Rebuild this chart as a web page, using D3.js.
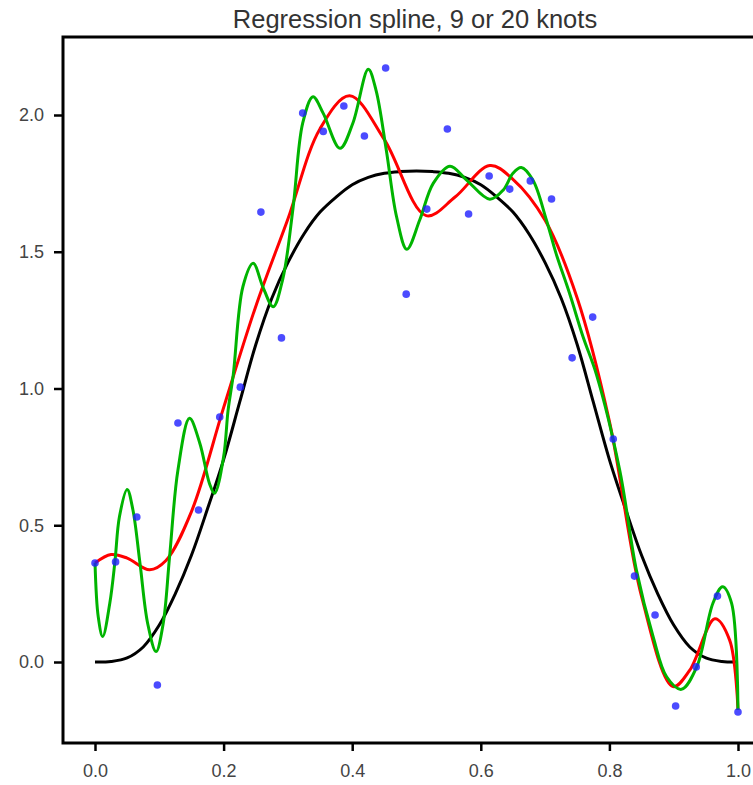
<!DOCTYPE html>
<html>
<head>
<meta charset="utf-8">
<script src="https://cdnjs.cloudflare.com/ajax/libs/d3/7.8.5/d3.min.js"></script>
<style>
  body { margin: 0; background: #fff; }
  text { font-family: 'Liberation Sans', Arial, sans-serif; }
</style>
</head>
<body>
<svg id="chart" width="753" height="785"></svg>
<script>
// noisy samples
var pointX = [0, 0.032, 0.065, 0.097, 0.129, 0.161, 0.194, 0.226, 0.258, 0.29, 0.323, 0.355,
  0.387, 0.419, 0.452, 0.484, 0.516, 0.548, 0.581, 0.613, 0.645, 0.677, 0.71, 0.742,
  0.774, 0.806, 0.839, 0.871, 0.903, 0.935, 0.968, 1.0];
var pointY = [0.362, 0.366, 0.53, -0.084, 0.874, 0.556, 0.896, 1.005, 1.645, 1.185, 2.007, 1.94,
  2.033, 1.923, 2.172, 1.345, 1.656, 1.949, 1.638, 1.777, 1.729, 1.759, 1.693, 1.112,
  1.261, 0.815, 0.314, 0.172, -0.161, -0.018, 0.241, -0.183];

// true function (black)
var trueX = [0, 0.025, 0.05, 0.075, 0.1, 0.125, 0.15, 0.175, 0.2, 0.225, 0.25, 0.275, 0.3, 0.325,
  0.35, 0.375, 0.4, 0.425, 0.45, 0.475, 0.5, 0.525, 0.55, 0.575, 0.6, 0.625, 0.65, 0.675,
  0.7, 0.725, 0.75, 0.775, 0.8, 0.825, 0.85, 0.875, 0.9, 0.925, 0.95, 0.975, 1.0];
var trueY = [0, 0.002, 0.015, 0.055, 0.135, 0.25, 0.39, 0.56, 0.74, 0.95, 1.16, 1.33, 1.46, 1.565,
  1.645, 1.70, 1.745, 1.772, 1.787, 1.793, 1.795, 1.793, 1.787, 1.772, 1.745, 1.70, 1.645, 1.565,
  1.46, 1.33, 1.16, 0.95, 0.74, 0.56, 0.39, 0.25, 0.135, 0.055, 0.015, 0.002, 0];

// spline with 9 knots (red)
var fit9X = [0, 0.025, 0.05, 0.085, 0.11, 0.15, 0.2, 0.25, 0.3, 0.35, 0.396, 0.45, 0.515, 0.56,
  0.614, 0.65, 0.7, 0.75, 0.8, 0.85, 0.899, 0.925, 0.964, 0.987, 1.0];
var fit9Y = [0.362, 0.393, 0.38, 0.337, 0.37, 0.55, 0.93, 1.30, 1.62, 1.95, 2.07, 1.91, 1.632, 1.70,
  1.815, 1.765, 1.615, 1.33, 0.88, 0.24, -0.09, -0.03, 0.158, 0.08, -0.175];

// spline with 20 knots (green)
var fit20X = [0, 0.005, 0.012, 0.023, 0.031, 0.038, 0.05, 0.059, 0.07, 0.082, 0.095, 0.106, 0.116,
  0.129, 0.147, 0.163, 0.178, 0.186, 0.2, 0.207, 0.215, 0.23, 0.246, 0.261, 0.277, 0.292, 0.308,
  0.323, 0.339, 0.355, 0.381, 0.401, 0.425, 0.437, 0.453, 0.469, 0.485, 0.505, 0.526, 0.552,
  0.578, 0.614, 0.635, 0.65, 0.663, 0.681, 0.702, 0.717, 0.738, 0.759, 0.78, 0.816, 0.842,
  0.868, 0.889, 0.912, 0.936, 0.961, 0.976, 0.99, 1.0];
var fit20Y = [0.363, 0.166, 0.093, 0.215, 0.367, 0.531, 0.631, 0.556, 0.36, 0.14, 0.038, 0.14, 0.385,
  0.702, 0.891, 0.80, 0.653, 0.617, 0.75, 0.921, 1.05, 1.372, 1.458, 1.372, 1.299, 1.40, 1.66,
  1.97, 2.067, 2.006, 1.878, 1.97, 2.167, 2.091, 1.872, 1.628, 1.509, 1.616, 1.75, 1.813,
  1.762, 1.692, 1.726, 1.787, 1.808, 1.762, 1.616, 1.494, 1.348, 1.189, 1.05, 0.702, 0.336,
  0.093, -0.054, -0.1, -0.017, 0.215, 0.275, 0.215, -0.175];

var xTicks = [0, 0.2, 0.4, 0.6, 0.8, 1.0];
var yTicks = [0, 0.5, 1.0, 1.5, 2.0];

var frameLeft = 63, frameRight = 753, frameTop = 37, frameBottom = 743;

var svg = d3.select('#chart');

var xScale = d3.scaleLinear()
  .domain([0, 1])
  .range([95, 738]);
var yScale = d3.scaleLinear()
  .domain([0, 2])
  .range([662, 115]);

function pairs(xs, ys) {
  return xs.map(function (x, i) {
    return [x, ys[i]];
  });
}

var line = d3.line()
  .x(function (d) { return xScale(d[0]); })
  .y(function (d) { return yScale(d[1]); })
  .curve(d3.curveCatmullRom.alpha(0.5));

svg.append('path')
  .datum(pairs(trueX, trueY))
  .attr('d', line)
  .attr('fill', 'none')
  .attr('stroke', '#000')
  .attr('stroke-width', 3);

svg.append('path')
  .datum(pairs(fit9X, fit9Y))
  .attr('d', line)
  .attr('fill', 'none')
  .attr('stroke', '#ff0000')
  .attr('stroke-width', 3);

svg.append('path')
  .datum(pairs(fit20X, fit20Y))
  .attr('d', line)
  .attr('fill', 'none')
  .attr('stroke', '#00b400')
  .attr('stroke-width', 3);

svg.selectAll('circle')
  .data(pairs(pointX, pointY))
  .enter()
  .append('circle')
  .attr('cx', function (d) { return xScale(d[0]); })
  .attr('cy', function (d) { return yScale(d[1]); })
  .attr('r', 3.8)
  .attr('fill', 'rgba(30, 30, 255, 0.8)');

// axes
var yAxis = d3.axisLeft(yScale)
  .tickValues(yTicks)
  .tickFormat(d3.format('.1f'))
  .tickSize(8)
  .tickSizeOuter(0)
  .tickPadding(10);
var xAxis = d3.axisBottom(xScale)
  .tickValues(xTicks)
  .tickFormat(d3.format('.1f'))
  .tickSize(7)
  .tickPadding(13);

var gy = svg.append('g')
  .attr('transform', 'translate(' + (frameLeft - 1) + ', 0)')
  .call(yAxis);
var gx = svg.append('g')
  .attr('transform', 'translate(0, ' + (frameBottom + 1) + ')')
  .call(xAxis);

[gx, gy].forEach(function (g) {
  g.select('.domain').remove();
  g.selectAll('line').attr('stroke', '#000').attr('stroke-width', 2.5);
  g.selectAll('text')
    .attr('font-size', '18px')
    .attr('fill', '#444')
    .attr('font-family', "'Liberation Sans', Arial, sans-serif");
});

// spines
svg.append('path')
  .attr('d', 'M' + frameRight + ',' + frameTop + 'H' + frameLeft + 'V' + frameBottom + 'H' + frameRight)
  .attr('fill', 'none')
  .attr('stroke', '#000')
  .attr('stroke-width', 3);

svg.append('text')
  .attr('x', 415)
  .attr('y', 28)
  .attr('text-anchor', 'middle')
  .attr('font-size', '25.5px')
  .attr('fill', '#333')
  .text('Regression spline, 9 or 20 knots');
</script>
</body>
</html>
